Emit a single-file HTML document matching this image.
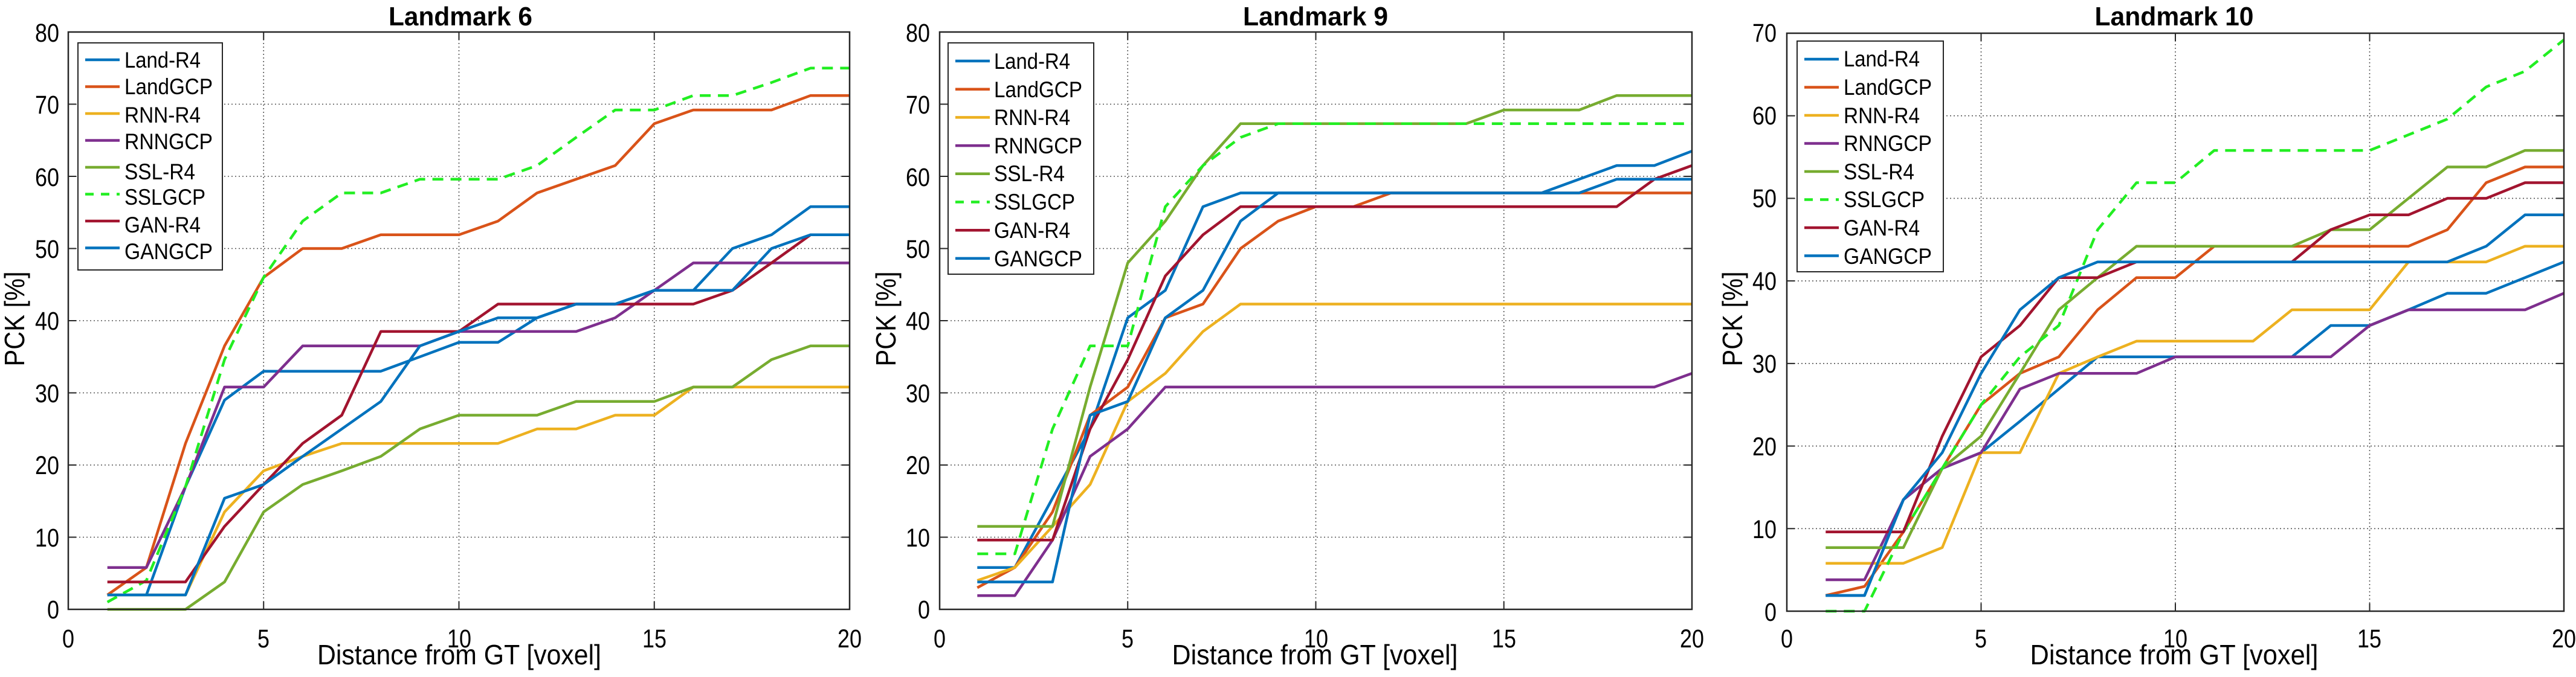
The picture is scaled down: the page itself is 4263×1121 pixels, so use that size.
<!DOCTYPE html>
<html><head><meta charset="utf-8"><style>
html,body{margin:0;padding:0;background:#fff;}
svg{display:block;font-family:"Liberation Sans",Arial,sans-serif;}
</style></head><body>
<svg id="s" width="4263" height="1121" viewBox="0 0 4263 1121" xmlns="http://www.w3.org/2000/svg">
<rect width="4263" height="1121" fill="#fff"/>
<g id="plots"></g>
<g fill="#000" font-size="43">
<!-- Panel 1 -->
<text x="762" y="42" font-size="44" font-weight="bold" text-anchor="middle" textLength="238" lengthAdjust="spacingAndGlyphs">Landmark 6</text>
<text x="760" y="1100" font-size="46" text-anchor="middle" textLength="470" lengthAdjust="spacingAndGlyphs">Distance from GT [voxel]</text>
<text transform="translate(40,528) rotate(-90)" font-size="46" text-anchor="middle" textLength="157" lengthAdjust="spacingAndGlyphs">PCK [%]</text>
<g text-anchor="middle">
<text x="113" y="1072" textLength="20" lengthAdjust="spacingAndGlyphs">0</text>
<text x="436" y="1072" textLength="20" lengthAdjust="spacingAndGlyphs">5</text>
<text x="760" y="1072" textLength="40" lengthAdjust="spacingAndGlyphs">10</text>
<text x="1083" y="1072" textLength="40" lengthAdjust="spacingAndGlyphs">15</text>
<text x="1406" y="1072" textLength="40" lengthAdjust="spacingAndGlyphs">20</text>
</g>
<g text-anchor="end">
<text x="98" y="1024" textLength="20" lengthAdjust="spacingAndGlyphs">0</text>
<text x="98" y="905" textLength="40" lengthAdjust="spacingAndGlyphs">10</text>
<text x="98" y="785" textLength="40" lengthAdjust="spacingAndGlyphs">20</text>
<text x="98" y="666" textLength="40" lengthAdjust="spacingAndGlyphs">30</text>
<text x="98" y="546" textLength="40" lengthAdjust="spacingAndGlyphs">40</text>
<text x="98" y="427" textLength="40" lengthAdjust="spacingAndGlyphs">50</text>
<text x="98" y="308" textLength="40" lengthAdjust="spacingAndGlyphs">60</text>
<text x="98" y="188" textLength="40" lengthAdjust="spacingAndGlyphs">70</text>
<text x="98" y="69" textLength="40" lengthAdjust="spacingAndGlyphs">80</text>
</g>
<!-- Panel 2 -->
<text x="2177" y="42" font-size="44" font-weight="bold" text-anchor="middle" textLength="240" lengthAdjust="spacingAndGlyphs">Landmark 9</text>
<text x="2176" y="1100" font-size="46" text-anchor="middle" textLength="473" lengthAdjust="spacingAndGlyphs">Distance from GT [voxel]</text>
<text transform="translate(1482,528) rotate(-90)" font-size="46" text-anchor="middle" textLength="157" lengthAdjust="spacingAndGlyphs">PCK [%]</text>
<g text-anchor="middle">
<text x="1555" y="1072" textLength="20" lengthAdjust="spacingAndGlyphs">0</text>
<text x="1866" y="1072" textLength="20" lengthAdjust="spacingAndGlyphs">5</text>
<text x="2178" y="1072" textLength="40" lengthAdjust="spacingAndGlyphs">10</text>
<text x="2489" y="1072" textLength="40" lengthAdjust="spacingAndGlyphs">15</text>
<text x="2800" y="1072" textLength="40" lengthAdjust="spacingAndGlyphs">20</text>
</g>
<g text-anchor="end">
<text x="1539" y="1024" textLength="20" lengthAdjust="spacingAndGlyphs">0</text>
<text x="1539" y="905" textLength="40" lengthAdjust="spacingAndGlyphs">10</text>
<text x="1539" y="785" textLength="40" lengthAdjust="spacingAndGlyphs">20</text>
<text x="1539" y="666" textLength="40" lengthAdjust="spacingAndGlyphs">30</text>
<text x="1539" y="546" textLength="40" lengthAdjust="spacingAndGlyphs">40</text>
<text x="1539" y="427" textLength="40" lengthAdjust="spacingAndGlyphs">50</text>
<text x="1539" y="308" textLength="40" lengthAdjust="spacingAndGlyphs">60</text>
<text x="1539" y="188" textLength="40" lengthAdjust="spacingAndGlyphs">70</text>
<text x="1539" y="69" textLength="40" lengthAdjust="spacingAndGlyphs">80</text>
</g>
<!-- Panel 3 -->
<text x="3598" y="42" font-size="44" font-weight="bold" text-anchor="middle" textLength="263" lengthAdjust="spacingAndGlyphs">Landmark 10</text>
<text x="3598" y="1100" font-size="46" text-anchor="middle" textLength="477" lengthAdjust="spacingAndGlyphs">Distance from GT [voxel]</text>
<text transform="translate(2883,528) rotate(-90)" font-size="46" text-anchor="middle" textLength="157" lengthAdjust="spacingAndGlyphs">PCK [%]</text>
<g text-anchor="middle">
<text x="2957" y="1072" textLength="20" lengthAdjust="spacingAndGlyphs">0</text>
<text x="3278" y="1072" textLength="20" lengthAdjust="spacingAndGlyphs">5</text>
<text x="3600" y="1072" textLength="40" lengthAdjust="spacingAndGlyphs">10</text>
<text x="3921" y="1072" textLength="40" lengthAdjust="spacingAndGlyphs">15</text>
<text x="4243" y="1072" textLength="40" lengthAdjust="spacingAndGlyphs">20</text>
</g>
<g text-anchor="end">
<text x="2940" y="1028" textLength="20" lengthAdjust="spacingAndGlyphs">0</text>
<text x="2940" y="891" textLength="40" lengthAdjust="spacingAndGlyphs">10</text>
<text x="2940" y="754" textLength="40" lengthAdjust="spacingAndGlyphs">20</text>
<text x="2940" y="617" textLength="40" lengthAdjust="spacingAndGlyphs">30</text>
<text x="2940" y="480" textLength="40" lengthAdjust="spacingAndGlyphs">40</text>
<text x="2940" y="343" textLength="40" lengthAdjust="spacingAndGlyphs">50</text>
<text x="2940" y="206" textLength="40" lengthAdjust="spacingAndGlyphs">60</text>
<text x="2940" y="69" textLength="40" lengthAdjust="spacingAndGlyphs">70</text>
</g>
</g>
<!-- Legends -->
<g id="leg1" font-size="37">
<rect x="129" y="71" width="239" height="376" fill="#fff" stroke="#262626" stroke-width="2"/>
<text x="206" y="112" textLength="126" lengthAdjust="spacingAndGlyphs">Land-R4</text>
<text x="206" y="156" textLength="146" lengthAdjust="spacingAndGlyphs">LandGCP</text>
<text x="206" y="203" textLength="126" lengthAdjust="spacingAndGlyphs">RNN-R4</text>
<text x="206" y="247" textLength="146" lengthAdjust="spacingAndGlyphs">RNNGCP</text>
<text x="206" y="297" textLength="117" lengthAdjust="spacingAndGlyphs">SSL-R4</text>
<text x="206" y="339" textLength="134" lengthAdjust="spacingAndGlyphs">SSLGCP</text>
<text x="206" y="385" textLength="126" lengthAdjust="spacingAndGlyphs">GAN-R4</text>
<text x="206" y="429" textLength="146" lengthAdjust="spacingAndGlyphs">GANGCP</text>
</g>
<g id="leg2" font-size="37">
<rect x="1569" y="71" width="241" height="383" fill="#fff" stroke="#262626" stroke-width="2"/>
<text x="1645" y="114" textLength="126" lengthAdjust="spacingAndGlyphs">Land-R4</text>
<text x="1645" y="161" textLength="146" lengthAdjust="spacingAndGlyphs">LandGCP</text>
<text x="1645" y="207" textLength="126" lengthAdjust="spacingAndGlyphs">RNN-R4</text>
<text x="1645" y="254" textLength="146" lengthAdjust="spacingAndGlyphs">RNNGCP</text>
<text x="1645" y="300" textLength="117" lengthAdjust="spacingAndGlyphs">SSL-R4</text>
<text x="1645" y="347" textLength="134" lengthAdjust="spacingAndGlyphs">SSLGCP</text>
<text x="1645" y="394" textLength="126" lengthAdjust="spacingAndGlyphs">GAN-R4</text>
<text x="1645" y="441" textLength="146" lengthAdjust="spacingAndGlyphs">GANGCP</text>
</g>
<g id="leg3" font-size="37">
<rect x="2974" y="68" width="242" height="382" fill="#fff" stroke="#262626" stroke-width="2"/>
<text x="3051" y="110" textLength="126" lengthAdjust="spacingAndGlyphs">Land-R4</text>
<text x="3051" y="157" textLength="146" lengthAdjust="spacingAndGlyphs">LandGCP</text>
<text x="3051" y="204" textLength="126" lengthAdjust="spacingAndGlyphs">RNN-R4</text>
<text x="3051" y="250" textLength="146" lengthAdjust="spacingAndGlyphs">RNNGCP</text>
<text x="3051" y="297" textLength="117" lengthAdjust="spacingAndGlyphs">SSL-R4</text>
<text x="3051" y="343" textLength="134" lengthAdjust="spacingAndGlyphs">SSLGCP</text>
<text x="3051" y="390" textLength="126" lengthAdjust="spacingAndGlyphs">GAN-R4</text>
<text x="3051" y="437" textLength="146" lengthAdjust="spacingAndGlyphs">GANGCP</text>
</g>
<g id="legl"></g>
</svg>
<script>
var NS="http://www.w3.org/2000/svg";
function el(p,t,a){var e=document.createElementNS(NS,t);for(var k in a)e.setAttribute(k,a[k]);p.appendChild(e);return e;}
var C=["#0072BD","#D95319","#EDB120","#7E2F8E","#77AC30","#22EE22","#A2142F","#0072BD"];
var P=[
{x0:113,x1:1406,yt:53,yb:1009,ym:80,leg:[141,198,99,44.5],
d:[
[2,2,17,29,33,33,33,33,35,37,37,40.4,42.3,42.3,44.2,44.2,50,51.9,55.8,55.8],
[2,5.8,23,36.5,46,50,50,51.9,51.9,51.9,53.8,57.7,59.6,61.5,67.3,69.2,69.2,69.2,71.2,71.2],
[2,2,2,13.5,19.2,21.2,23,23,23,23,23,25,25,26.9,26.9,30.8,30.8,30.8,30.8,30.8],
[5.8,5.8,17,30.8,30.8,36.5,36.5,36.5,36.5,38.5,38.5,38.5,38.5,40.4,44.2,48,48,48,48,48],
[0,0,0,3.8,13.5,17.3,19.2,21.2,25,26.9,26.9,26.9,28.8,28.8,28.8,30.8,30.8,34.6,36.5,36.5],
[1,4,17,34.6,46,53.8,57.7,57.7,59.6,59.6,59.6,61.5,65.4,69.2,69.2,71.2,71.2,73,75,75],
[3.8,3.8,3.8,11.5,17.3,23,26.9,38.5,38.5,38.5,42.3,42.3,42.3,42.3,42.3,42.3,44.2,48,51.9,51.9],
[2,2,2,15.4,17.3,21.2,25,28.8,36.5,38.5,40.4,40.4,42.3,42.3,44.2,44.2,44.2,50,51.9,51.9]]},
{x0:1555,x1:2800,yt:53,yb:1009,ym:80,leg:[1581,1638,101,46.7],
d:[
[5.8,5.8,15.4,25,40.4,44.2,55.8,57.7,57.7,57.7,57.7,57.7,57.7,57.7,57.7,57.7,59.6,61.5,61.5,63.5],
[3,5.8,13.5,26.9,30.8,40.4,42.3,50,53.8,55.8,55.8,57.7,57.7,57.7,57.7,57.7,57.7,57.7,57.7,57.7],
[4,5.8,11.5,17.3,28.8,32.7,38.5,42.3,42.3,42.3,42.3,42.3,42.3,42.3,42.3,42.3,42.3,42.3,42.3,42.3],
[1.9,1.9,9.6,21.2,25,30.8,30.8,30.8,30.8,30.8,30.8,30.8,30.8,30.8,30.8,30.8,30.8,30.8,30.8,32.7],
[11.5,11.5,11.5,30.8,48,53.8,61.5,67.3,67.3,67.3,67.3,67.3,67.3,67.3,69.2,69.2,69.2,71.2,71.2,71.2],
[7.7,7.7,25,36.5,36.5,55.8,61.5,65.4,67.3,67.3,67.3,67.3,67.3,67.3,67.3,67.3,67.3,67.3,67.3,67.3],
[9.6,9.6,9.6,25,34.6,46.2,51.9,55.8,55.8,55.8,55.8,55.8,55.8,55.8,55.8,55.8,55.8,55.8,59.6,61.5],
[3.8,3.8,3.8,26.9,28.8,40.4,44.2,53.8,57.7,57.7,57.7,57.7,57.7,57.7,57.7,57.7,57.7,59.6,59.6,59.6]]},
{x0:2957,x1:4243,yt:55,yb:1012,ym:70,leg:[2986,3043,98,46.5],
d:[
[1.9,1.9,13.5,17.3,19.2,23,26.9,30.8,30.8,30.8,30.8,30.8,30.8,34.6,34.6,36.5,38.5,38.5,40.4,42.3],
[1.9,3,9.6,17.3,25,28.8,30.8,36.5,40.4,40.4,44.2,44.2,44.2,44.2,44.2,44.2,46.2,51.9,53.8,53.8],
[5.8,5.8,5.8,7.7,19.2,19.2,28.8,30.8,32.7,32.7,32.7,32.7,36.5,36.5,36.5,42.3,42.3,42.3,44.2,44.2],
[3.8,3.8,13.5,17.3,19.2,26.9,28.8,28.8,28.8,30.8,30.8,30.8,30.8,30.8,34.6,36.5,36.5,36.5,36.5,38.5],
[7.7,7.7,7.7,17.3,21.2,28.8,36.5,40.4,44.2,44.2,44.2,44.2,44.2,46.2,46.2,50,53.8,53.8,55.8,55.8],
[0,0,9.6,17.3,25,30.8,34.6,46.2,51.9,51.9,55.8,55.8,55.8,55.8,55.8,57.7,59.6,63.5,65.4,69.2],
[9.6,9.6,9.6,21.2,30.8,34.6,40.4,40.4,42.3,42.3,42.3,42.3,42.3,46.2,48,48,50,50,51.9,51.9],
[1.9,1.9,13.5,19.2,28.8,36.5,40.4,42.3,42.3,42.3,42.3,42.3,42.3,42.3,42.3,42.3,42.3,44.2,48,48]]}];
var g=document.getElementById("plots"),L=document.getElementById("legl");
P.forEach(function(p){
 var sx=(p.x1-p.x0)/20,sy=(p.yb-p.yt)/p.ym;
 var X=function(v){return p.x0+v*sx},Y=function(v){return p.yb-v*sy};
 // grid
 for(var v=5;v<20;v+=5)el(g,"line",{x1:X(v),x2:X(v),y1:p.yt,y2:p.yb,stroke:"#555","stroke-width":1.6,"stroke-dasharray":"2 4"});
 for(var v=10;v<p.ym;v+=10)el(g,"line",{x1:p.x0,x2:p.x1,y1:Y(v),y2:Y(v),stroke:"#555","stroke-width":1.6,"stroke-dasharray":"2 4"});
 // ticks
 for(var v=0;v<=20;v+=5){el(g,"line",{x1:X(v),x2:X(v),y1:p.yb,y2:p.yb-13,stroke:"#262626","stroke-width":2});el(g,"line",{x1:X(v),x2:X(v),y1:p.yt,y2:p.yt+13,stroke:"#262626","stroke-width":2});}
 for(var v=0;v<=p.ym;v+=10){el(g,"line",{x1:p.x0,x2:p.x0+13,y1:Y(v),y2:Y(v),stroke:"#262626","stroke-width":2});el(g,"line",{x1:p.x1,x2:p.x1-13,y1:Y(v),y2:Y(v),stroke:"#262626","stroke-width":2});}
 p.d.forEach(function(arr,i){
  var pts=arr.map(function(v,j){return X(j+1).toFixed(1)+","+Y(v).toFixed(1)}).join(" ");
  var a={points:pts,fill:"none",stroke:C[i],"stroke-width":4.5,"stroke-linejoin":"round"};
  if(i==5)a["stroke-dasharray"]="18 12";
  el(g,"polyline",a);
 });
 el(g,"rect",{x:p.x0,y:p.yt,width:p.x1-p.x0,height:p.yb-p.yt,fill:"none",stroke:"#262626","stroke-width":2.5});
 for(var i=0;i<8;i++){var yy=p.leg[2]+i*p.leg[3];var a={x1:p.leg[0],x2:p.leg[1],y1:yy,y2:yy,stroke:C[i],"stroke-width":4.5};if(i==5)a["stroke-dasharray"]="14 12";el(L,"line",a);}
});
</script>
</body></html>
